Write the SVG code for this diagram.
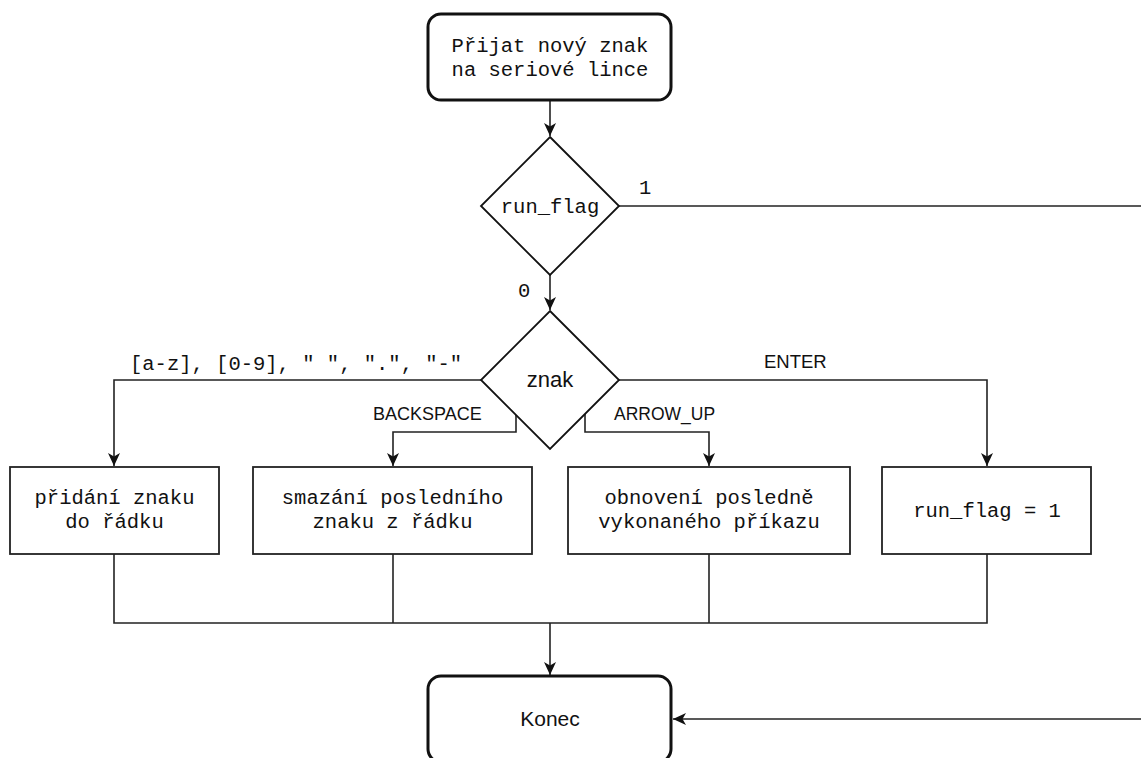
<svg xmlns="http://www.w3.org/2000/svg" width="1141" height="758" viewBox="0 0 1141 758">
  <defs>
    <marker id="arrow" markerUnits="userSpaceOnUse" markerWidth="14" markerHeight="12" refX="13" refY="6" orient="auto">
      <path d="M0,0 L13,6 L0,12 L3.5,6 Z" fill="#111"/>
    </marker>
    <style>
      .term { fill: #fff; stroke: #111; stroke-width: 3; }
      .proc { fill: #fff; stroke: #222; stroke-width: 1.8; }
      .dec  { fill: #fff; stroke: #111; stroke-width: 1.8; }
      .edge { fill: none; stroke: #222; stroke-width: 1.6; }
      .mono { font-family: "Liberation Mono", "DejaVu Sans Mono", monospace; font-size: 20.5px; fill: #111; }
      .sans { font-family: "Liberation Sans", Arial, sans-serif; fill: #111; }
      .mid  { text-anchor: middle; }
    </style>
  </defs>

  <rect width="1141" height="758" fill="#fff"/>

  <!-- connectors -->
  <g id="connectors">
    <path class="edge" d="M550,100 V136" marker-end="url(#arrow)"/>
    <path class="edge" d="M619,206 H1145"/>
    <path class="edge" d="M550,275 V310" marker-end="url(#arrow)"/>
    <path class="edge" d="M481,380 H114 V466" marker-end="url(#arrow)"/>
    <path class="edge" d="M516,414 V432 H393 V466" marker-end="url(#arrow)"/>
    <path class="edge" d="M585,414 V432 H709 V466" marker-end="url(#arrow)"/>
    <path class="edge" d="M619,380 H987 V466" marker-end="url(#arrow)"/>
    <path class="edge" d="M114,554 V623 H987 V554"/>
    <path class="edge" d="M393,554 V623"/>
    <path class="edge" d="M709,554 V623"/>
    <path class="edge" d="M550,623 V675" marker-end="url(#arrow)"/>
    <path class="edge" d="M1145,719 H673" marker-end="url(#arrow)"/>

    <text class="mono" x="639" y="194">1</text>
    <text class="mono" x="518" y="297">0</text>
    <text class="mono" x="130" y="370">[a-z], [0-9], " ", ".", "-"</text>
    <text class="sans" x="373" y="420" font-size="18">BACKSPACE</text>
    <text class="sans" x="614" y="420" font-size="17.5">ARROW_UP</text>
    <text class="sans" x="764" y="368" font-size="18.5">ENTER</text>
  </g>

  <g id="start">
    <rect class="term" x="428" y="14" width="243" height="86" rx="13"/>
    <text class="mono mid" x="550" y="52">Přijat nový znak</text>
    <text class="mono mid" x="550" y="76">na seriové lince</text>
  </g>

  <g id="run-flag-check">
    <polygon class="dec" points="550,137 619,206 550,275 481,206"/>
    <text class="mono mid" x="550" y="213">run_flag</text>
  </g>

  <g id="char-switch">
    <polygon class="dec" points="550,311 619,380 550,449 481,380"/>
    <text class="sans mid" x="550" y="387" font-size="22">znak</text>
  </g>

  <g id="add-char">
    <rect class="proc" x="10" y="467" width="209" height="87"/>
    <text class="mono mid" x="114.5" y="504">přidání znaku</text>
    <text class="mono mid" x="114.5" y="528">do řádku</text>
  </g>

  <g id="delete-char">
    <rect class="proc" x="253" y="467" width="279" height="87"/>
    <text class="mono mid" x="392.5" y="504">smazání posledního</text>
    <text class="mono mid" x="392.5" y="528">znaku z řádku</text>
  </g>

  <g id="restore-cmd">
    <rect class="proc" x="568" y="467" width="282" height="87"/>
    <text class="mono mid" x="709" y="504">obnovení posledně</text>
    <text class="mono mid" x="709" y="528">vykonaného příkazu</text>
  </g>

  <g id="set-run-flag">
    <rect class="proc" x="882" y="467" width="209" height="87"/>
    <text class="mono mid" x="987" y="517">run_flag = 1</text>
  </g>

  <g id="end">
    <rect class="term" x="428" y="676" width="243" height="86" rx="13"/>
    <text class="sans mid" x="550" y="726" font-size="21">Konec</text>
  </g>
</svg>
